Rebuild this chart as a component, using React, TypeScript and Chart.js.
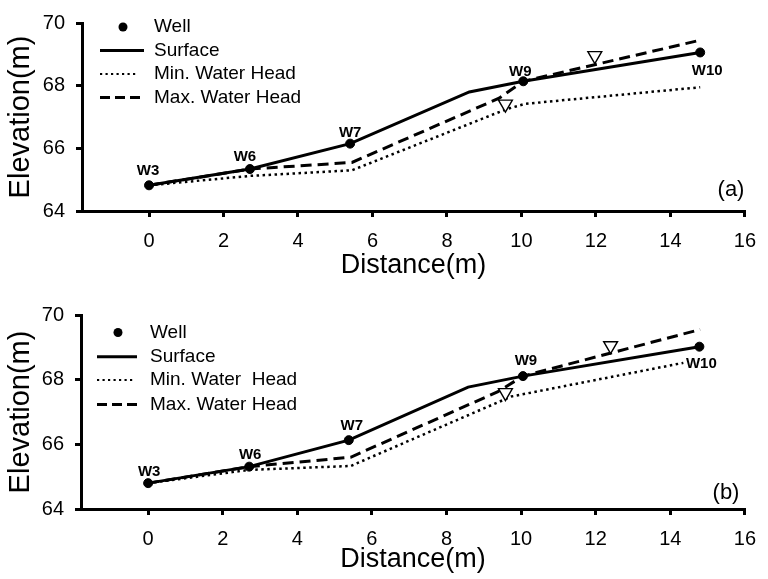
import React, { useEffect, useRef } from 'react';
import { Chart, registerables } from 'chart.js';

Chart.register(...registerables);

// ---------- shared ----------
const xTicks = [0, 2, 4, 6, 8, 10, 12, 14, 16];
const yTicks = [64, 66, 68, 70];
const wellNames = ['W3', 'W6', 'W7', 'W9', 'W10'];
const legendLabelsA = ['Well', 'Surface', 'Min. Water Head', 'Max. Water Head'];
const legendLabelsB = ['Well', 'Surface', 'Min. Water  Head', 'Max. Water Head'];

// ---------- panel (a) ----------
const wellXA = [0, 2.71, 5.4, 10.05, 14.8];
const wellYA = [64.82, 65.34, 66.15, 68.14, 69.06];
const surfXA = [0, 2.71, 5.4, 8.6, 10.05, 14.8];
const surfYA = [64.82, 65.34, 66.15, 67.8, 68.14, 69.06];
const minXA = [0, 2.71, 5.45, 9.6, 10.1, 14.8];
const minYA = [64.82, 65.12, 65.3, 67.25, 67.42, 67.95];
const maxXA = [0, 2.71, 5.45, 9.4, 10.05, 14.8];
const maxYA = [64.82, 65.34, 65.55, 67.6, 68.14, 69.45];
const triXA = [9.57, 11.97];
const triYA = [67.41, 68.96];

// ---------- panel (b) ----------
const wellXB = [0, 2.71, 5.38, 10.05, 14.78];
const wellYB = [64.8, 65.31, 66.13, 68.11, 69.02];
const surfXB = [0, 2.71, 5.38, 8.58, 10.05, 14.78];
const surfYB = [64.8, 65.31, 66.13, 67.77, 68.11, 69.02];
const minXB = [0, 2.71, 5.43, 9.74, 14.35];
const minYB = [64.8, 65.21, 65.33, 67.48, 68.52];
const maxXB = [0, 2.71, 5.43, 9.38, 10.05, 14.8];
const maxYB = [64.8, 65.31, 65.6, 67.63, 68.11, 69.55];
const triXB = [9.58, 12.4];
const triYB = [67.6, 69.05];

const FAMILY = '"Liberation Sans", Arial, Helvetica, sans-serif';

const pts = (xs: number[], ys: number[]) => xs.map((x, i) => ({ x, y: ys[i] }));

type PanelCfg = {
  top: number;
  height: number;
  area: { left: number; right: number; top: number; bottom: number };
  xTitlePad: number;
  tag: string;
  tagPos: [number, number];
  legendLabels: string[];
  legend: { rows: number[]; x0: number; x1: number; dotX: number; textX: number; minX1: number };
  labelOffsets: [number, number][];
  wellX: number[]; wellY: number[];
  surfX: number[]; surfY: number[];
  minX: number[]; minY: number[];
  maxX: number[]; maxY: number[];
  triX: number[]; triY: number[];
};

const panelA: PanelCfg = {
  top: 0,
  height: 290,
  area: { left: 82, right: 755, top: 17, bottom: 211 },
  xTitlePad: 8,
  tag: '(a)',
  tagPos: [731, 190],
  legendLabels: legendLabelsA,
  legend: { rows: [27, 50.5, 74, 97.5], x0: 100, x1: 144, dotX: 123, textX: 154, minX1: 138 },
  labelOffsets: [[-1, -10], [-5, -8], [0, -7], [-3, -5], [7, 23]],
  wellX: wellXA, wellY: wellYA,
  surfX: surfXA, surfY: surfYA,
  minX: minXA, minY: minYA,
  maxX: maxXA, maxY: maxYA,
  triX: triXA, triY: triYA,
};

const panelB: PanelCfg = {
  top: 290,
  height: 289,
  area: { left: 81, right: 754, top: 25, bottom: 219 },
  xTitlePad: 3,
  tag: '(b)',
  tagPos: [726, 203],
  legendLabels: legendLabelsB,
  legend: { rows: [42.5, 66.7, 90, 114.5], x0: 97, x1: 137, dotX: 118, textX: 150, minX1: 135 },
  labelOffsets: [[1, -7], [1, -8], [3, -10], [3, -11], [2, 21]],
  wellX: wellXB, wellY: wellYB,
  surfX: surfXB, surfY: surfYB,
  minX: minXB, minY: minYB,
  maxX: maxXB, maxY: maxYB,
  triX: triXB, triY: triYB,
};

function Panel({ cfg }: { cfg: PanelCfg }) {
  const ref = useRef<HTMLCanvasElement | null>(null);

  useEffect(() => {
    const canvas = ref.current;
    if (!canvas) return;

    const overlay = {
      id: 'overlay',
      afterDatasetsDraw(chart: any) {
        const { ctx } = chart;
        const xs = chart.scales.x;
        const ys = chart.scales.y;
        ctx.save();
        ctx.fillStyle = '#000';
        ctx.strokeStyle = '#000';

        // well labels
        ctx.font = `bold 15px ${FAMILY}`;
        ctx.textAlign = 'center';
        ctx.textBaseline = 'alphabetic';
        cfg.wellX.forEach((wx, i) => {
          const [dx, dy] = cfg.labelOffsets[i];
          ctx.fillText(wellNames[i], xs.getPixelForValue(wx) + dx, ys.getPixelForValue(cfg.wellY[i]) + dy);
        });

        // panel tag
        ctx.font = `22px ${FAMILY}`;
        ctx.textBaseline = 'middle';
        ctx.fillText(cfg.tag, cfg.tagPos[0], cfg.tagPos[1]);

        // legend
        const L = cfg.legend;
        ctx.font = `19px ${FAMILY}`;
        ctx.textAlign = 'left';
        ctx.textBaseline = 'middle';
        cfg.legendLabels.forEach((t, i) => ctx.fillText(t, L.textX, L.rows[i]));
        // well dot
        ctx.beginPath();
        ctx.arc(L.dotX, L.rows[0], 4.5, 0, Math.PI * 2);
        ctx.fill();
        // surface
        ctx.lineWidth = 3;
        ctx.setLineDash([]);
        ctx.beginPath();
        ctx.moveTo(L.x0, L.rows[1]);
        ctx.lineTo(L.x1, L.rows[1]);
        ctx.stroke();
        // min (dotted)
        ctx.lineWidth = 2.2;
        ctx.setLineDash([2.2, 3.3]);
        ctx.beginPath();
        ctx.moveTo(L.x0, L.rows[2]);
        ctx.lineTo(L.minX1, L.rows[2]);
        ctx.stroke();
        // max (dashed)
        ctx.lineWidth = 3;
        ctx.setLineDash([10, 5]);
        ctx.beginPath();
        ctx.moveTo(L.x0, L.rows[3]);
        ctx.lineTo(L.x1, L.rows[3]);
        ctx.stroke();
        ctx.restore();
      },
    };

    const chart = new Chart(canvas, {
      type: 'scatter',
      data: {
        datasets: [
          {
            label: 'Level',
            data: pts(cfg.triX, cfg.triY),
            pointStyle: 'triangle',
            rotation: 180,
            pointRadius: 8,
            backgroundColor: '#fff',
            borderColor: '#000',
            borderWidth: 1.4,
            showLine: false,
          },
          {
            label: 'Well',
            data: pts(cfg.wellX, cfg.wellY),
            pointRadius: 4.5,
            backgroundColor: '#000',
            borderColor: '#000',
            borderWidth: 1,
            showLine: false,
          },
          {
            label: 'Surface',
            data: pts(cfg.surfX, cfg.surfY),
            showLine: true,
            pointRadius: 0,
            borderColor: '#000',
            borderWidth: 3,
            tension: 0,
            fill: false,
          },
          {
            label: 'Max. Water Head',
            data: pts(cfg.maxX, cfg.maxY),
            showLine: true,
            pointRadius: 0,
            borderColor: '#000',
            borderWidth: 3,
            borderDash: [11, 6],
            tension: 0,
            fill: false,
          },
          {
            label: 'Min. Water Head',
            data: pts(cfg.minX, cfg.minY),
            showLine: true,
            pointRadius: 0,
            borderColor: '#000',
            borderWidth: 2.5,
            borderDash: [2.5, 3.5],
            tension: 0,
            fill: false,
          },
        ],
      },
      options: {
        animation: false,
        responsive: false,
        maintainAspectRatio: false,
        devicePixelRatio: 1,
        events: [],
        layout: {
          padding: { left: 0, right: 768 - cfg.area.right, top: cfg.area.top, bottom: 0 },
        },
        plugins: {
          legend: { display: false },
          tooltip: { enabled: false },
        },
        scales: {
          x: {
            type: 'linear',
            min: -1.8,
            max: 16,
            afterBuildTicks: (s: any) => {
              s.ticks = xTicks.map((v) => ({ value: v }));
            },
            afterFit: (s: any) => {
              s.height = cfg.height - cfg.area.bottom;
            },
            grid: { drawOnChartArea: false, drawTicks: true, tickLength: 6, lineWidth: 3, color: '#000' },
            border: { display: true, color: '#000', width: 3 },
            ticks: { color: '#000', font: { family: FAMILY, size: 20 }, padding: 12, maxRotation: 0, autoSkip: false },
            title: {
              display: true,
              text: 'Distance(m)',
              color: '#000',
              font: { family: FAMILY, size: 27 },
              padding: { top: 0, bottom: cfg.xTitlePad },
            },
          },
          y: {
            type: 'linear',
            min: 64,
            max: 70,
            afterBuildTicks: (s: any) => {
              s.ticks = yTicks.map((v) => ({ value: v }));
            },
            afterFit: (s: any) => {
              s.width = cfg.area.left;
            },
            grid: { drawOnChartArea: false, drawTicks: true, tickLength: 6, lineWidth: 3, color: '#000' },
            border: { display: true, color: '#000', width: 3 },
            ticks: { color: '#000', font: { family: FAMILY, size: 20 }, padding: 11 },
            title: {
              display: true,
              text: 'Elevation(m)',
              color: '#000',
              font: { family: FAMILY, size: 29 },
              padding: { top: 4, bottom: 0 },
            },
          },
        },
      },
      plugins: [overlay],
    } as any);

    return () => chart.destroy();
  }, [cfg]);

  return (
    <canvas
      ref={ref}
      width={768}
      height={cfg.height}
      style={{ position: 'absolute', left: 0, top: cfg.top, width: 768, height: cfg.height, display: 'block' }}
    />
  );
}

export default function App() {
  return (
    <div style={{ position: 'absolute', left: 0, top: 0, width: 768, height: 579, background: '#fff' }}>
      <Panel cfg={panelA} />
      <Panel cfg={panelB} />
    </div>
  );
}
